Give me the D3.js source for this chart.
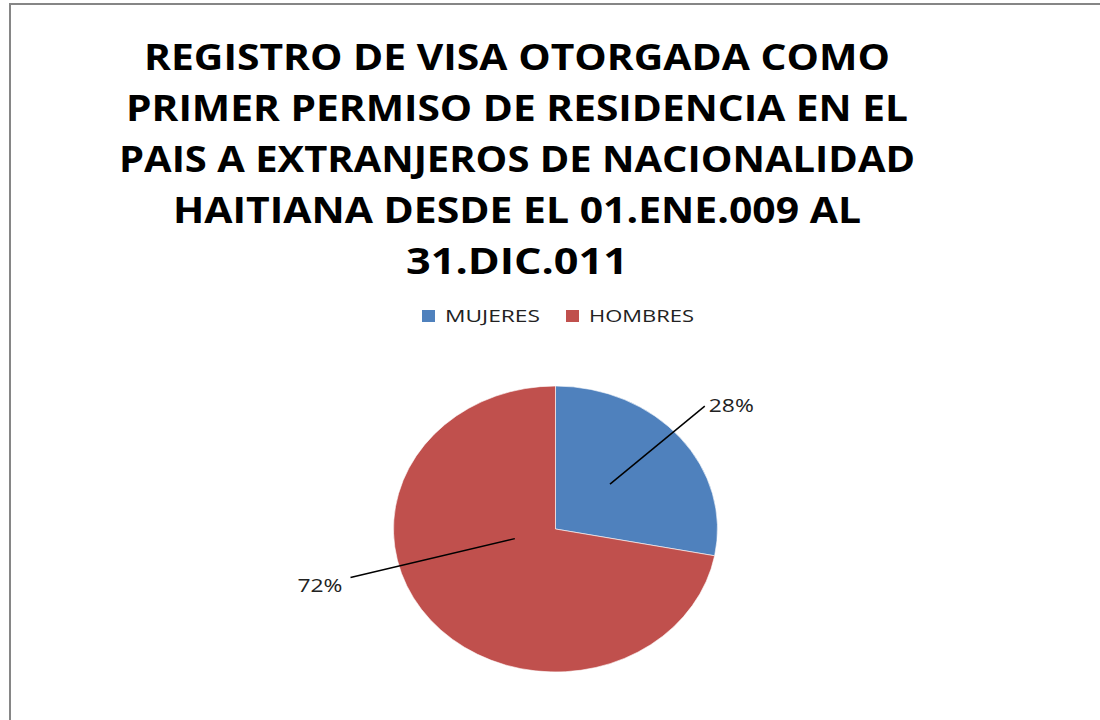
<!DOCTYPE html>
<html>
<head>
<meta charset="utf-8">
<script src="https://cdn.jsdelivr.net/npm/d3@7/dist/d3.min.js"></script>
<style>
  html, body { margin: 0; padding: 0; background: #fff; overflow: hidden; }
  svg { display: block; }
</style>
</head>
<body>
<svg id="chart" width="1100" height="720"></svg>
<script>
// datos del grafico
const categories = ["MUJERES", "HOMBRES"];
const values = [28, 72];
const labels = ["28%", "72%"];
const titleLines = [
  "REGISTRO DE VISA OTORGADA COMO",
  "PRIMER PERMISO DE RESIDENCIA EN EL",
  "PAIS A EXTRANJEROS DE NACIONALIDAD",
  "HAITIANA DESDE EL 01.ENE.009 AL",
  "31.DIC.011"
];

const colors = ["#4F81BD", "#C0504D"];

// layout
const width = 1100, height = 720;
const cx = 555.5, cy = 529;
const rx = 162, ry = 143;
const font = "'Open Sans', 'DejaVu Sans', sans-serif";

// ancho de cada linea del titulo (la fuente original es mas estrecha)
const titleWidths = [746, 782, 796, 688, 222];
const titleCenter = 517;

// lineas guia: angulo (grados desde arriba), radio interior y exterior relativos
const leaders = [
  { angle: 47, r0: 0.46, r1: 1.26, dx: 4, dy: 6, anchor: "start" },
  { angle: 255, r0: 0.26, r1: 1.31, dx: -8, dy: 15, anchor: "end" }
];

const svg = d3.select("#chart");

svg.append("rect")
  .attr("x", 0).attr("y", 0)
  .attr("width", width).attr("height", height)
  .attr("fill", "#fff");

// borde del area del grafico (solo se ven arriba e izquierda)
svg.append("path")
  .attr("d", `M10,${height} L10,4 L${width},4`)
  .attr("fill", "none")
  .attr("stroke", "#868686")
  .attr("stroke-width", 2);

// titulo
const title = svg.append("g").attr("class", "title");
titleLines.forEach(function (line, i) {
  title.append("text")
    .attr("x", titleCenter)
    .attr("y", 70 + i * 51)
    .attr("text-anchor", "middle")
    .attr("textLength", titleWidths[i])
    .attr("lengthAdjust", "spacingAndGlyphs")
    .style("font-family", font)
    .style("font-weight", "bold")
    .style("font-size", "36px")
    .style("fill", "#000")
    .text(line);
});

// leyenda
const legendX = [422, 566];
const legendW = [95, 105];
const legend = svg.append("g").attr("class", "legend");
categories.forEach(function (c, i) {
  const g = legend.append("g").attr("transform", `translate(${legendX[i]}, 310)`);
  g.append("rect")
    .attr("width", 13).attr("height", 12)
    .attr("fill", colors[i]);
  g.append("text")
    .attr("x", 23)
    .attr("y", 12.3)
    .attr("textLength", legendW[i])
    .attr("lengthAdjust", "spacingAndGlyphs")
    .style("font-family", font)
    .style("font-size", "17px")
    .style("fill", "#222")
    .text(c);
});

// pastel (elipse: se escala en x)
const pie = d3.pie().sort(null).value(d => d);
const arcs = pie(values);
const arc = d3.arc().innerRadius(0).outerRadius(ry);

const pieG = svg.append("g")
  .attr("transform", `translate(${cx}, ${cy}) scale(${rx / ry}, 1)`);

pieG.selectAll("path")
  .data(arcs)
  .enter()
  .append("path")
  .attr("d", arc)
  .attr("fill", (d, i) => colors[i])
  .attr("stroke", "#fff")
  .attr("stroke-width", 0.6)
  .attr("vector-effect", "non-scaling-stroke");

// etiquetas con linea guia
function ellipsePoint(angleDeg, r) {
  const a = angleDeg * Math.PI / 180;
  return [cx + Math.sin(a) * rx * r, cy - Math.cos(a) * ry * r];
}

const labelG = svg.append("g").attr("class", "labels");
labels.forEach(function (t, i) {
  const L = leaders[i];
  const p0 = ellipsePoint(L.angle, L.r0);
  const p1 = ellipsePoint(L.angle, L.r1);
  labelG.append("line")
    .attr("x1", p0[0]).attr("y1", p0[1])
    .attr("x2", p1[0]).attr("y2", p1[1])
    .attr("stroke", "#000")
    .attr("stroke-width", 1.5);
  labelG.append("text")
    .attr("x", p1[0] + L.dx)
    .attr("y", p1[1] + L.dy)
    .attr("text-anchor", L.anchor)
    .attr("textLength", 45)
    .attr("lengthAdjust", "spacingAndGlyphs")
    .style("font-family", font)
    .style("font-size", "18.5px")
    .style("fill", "#222")
    .text(t);
});
</script>
</body>
</html>
